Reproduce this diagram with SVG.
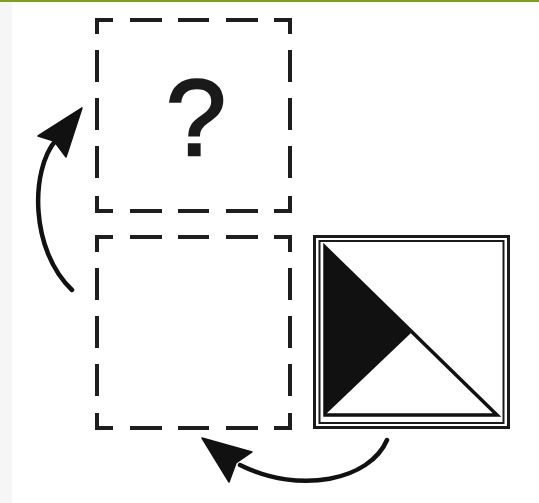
<svg xmlns="http://www.w3.org/2000/svg" width="539" height="503" viewBox="0 0 539 503">
<style>
.dash{stroke:#1e1e1e;stroke-width:4;fill:none;stroke-linecap:butt}
.frame{stroke:#1a1a1a;fill:none}
.arrow{stroke:#111;stroke-width:4.5;fill:none;stroke-linecap:round}
.head{fill:#111;stroke:#111;stroke-width:1.5;stroke-linejoin:round}
</style>
<rect x="0" y="0" width="539" height="503" fill="#ffffff"/>
<rect x="0" y="0" width="12" height="503" fill="#f6f6f6"/>
<rect x="0" y="0" width="539" height="2" fill="#7f9c2c"/>
<g id="box-question">
<path class="dash" d="M97,34 V20 H113 M130,20 H162 M178,20 H209 M226,20 H258 M274,20 H290 V34 M290,50 V82 M290,98 V130 M290,146 V178 M290,196 V211 H274 M258,211 H226 M209,211 H178 M162,211 H130 M113,211 H97 V196 M97,178 V146 M97,130 V98 M97,82 V50"/>
<text x="196" y="155" font-family="Liberation Sans, Arial, sans-serif" font-size="108" text-anchor="middle" fill="#1a1a1a" stroke="#1a1a1a" stroke-width="2.5">?</text>
</g>
<g id="box-empty">
<path class="dash" d="M97,252 V237 H113 M130,237 H162 M178,237 H209 M226,237 H258 M274,237 H290 V252 M290,268 V300 M290,316 V348 M290,364 V396 M290,413 V428 H274 M258,428 H226 M209,428 H178 M162,428 H130 M113,428 H97 V413 M97,396 V364 M97,348 V316 M97,300 V268"/>
</g>
<g id="box-triangle">
<rect class="frame" x="314.5" y="236.5" width="194" height="191" stroke-width="3"/>
<rect class="frame" x="319.5" y="241" width="184" height="182" stroke-width="2"/>
<polygon points="325,247 411,333 325,415" fill="#111"/>
<polygon points="325,247 497,415 325,415" fill="none" stroke="#111" stroke-width="3.5" stroke-linejoin="miter"/>
</g>
<g id="connectors">
<path class="arrow" d="M72,290 C30,250 30,170 56,140"/>
<polygon class="head" points="82,108 38,136 54,141 66,157"/>
<path class="arrow" d="M387,440 C370,480 300,495 240,465"/>
<polygon class="head" points="202,438 229,482 236,463 252,452"/>
</g>
</svg>
